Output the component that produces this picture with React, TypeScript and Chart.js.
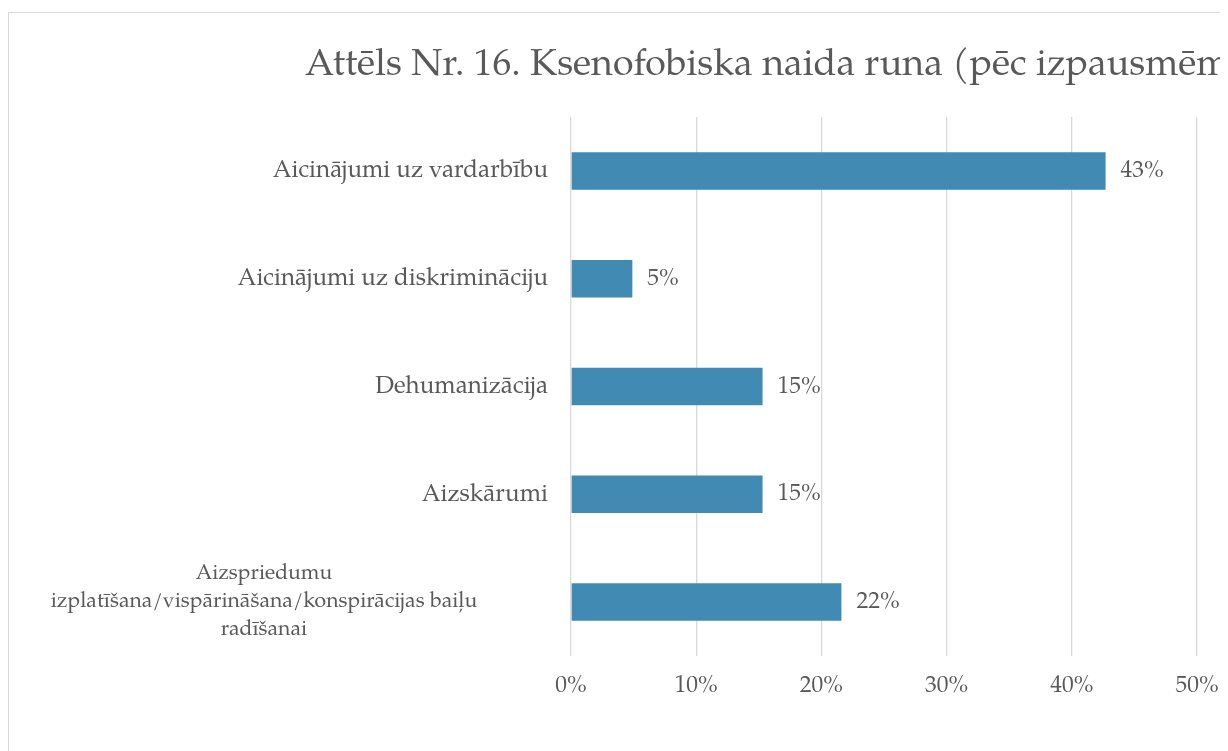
import React, { useEffect, useRef } from "react";
import { Chart, registerables } from "chart.js";

Chart.register(...registerables);

const TITLE = "Attēls Nr. 16. Ksenofobiska naida runa (pēc izpausmēm)";
const CATEGORIES: string[][] = [
  ["Aicinājumi uz vardarbību"],
  ["Aicinājumi uz diskrimināciju"],
  ["Dehumanizācija"],
  ["Aizskārumi"],
  ["Aizspriedumu", "izplatīšana/vispārināšana/konspirācijas baiļu", "radīšanai"],
];
const VALUES = [0.427, 0.049, 0.153, 0.153, 0.216];
const VALUE_LABELS = ["43%", "5%", "15%", "15%", "22%"];
const X_TICKS_MIN = 0;
const X_TICKS_MAX = 0.5;
const X_TICK_STEP = 0.1;

const FONT = "'Palatino Linotype', 'Book Antiqua', Palatino, P052, 'URW Palladio L', 'TeX Gyre Pagella', 'Liberation Serif', serif";
const TEXT_COLOR = "#595959";
const BAR_COLOR = "#418AB3";
const GRID_COLOR = "#d9d9d9";

const CANVAS_W = 1298;
const CANVAS_H = 758;

export default function App() {
  const ref = useRef<HTMLCanvasElement | null>(null);

  useEffect(() => {
    if (!ref.current) return;

    const overlay = {
      id: "overlay",
      afterDraw(chart: any) {
        const ctx = chart.ctx;
        const area = chart.chartArea;
        ctx.save();
        // title
        ctx.fillStyle = TEXT_COLOR;
        ctx.font = `37.5px ${FONT}`;
        ctx.textAlign = "left";
        ctx.textBaseline = "alphabetic";
        ctx.fillText(TITLE, 296, 62);

        // category labels
        const y = chart.scales.y;
        ctx.textBaseline = "middle";
        CATEGORIES.forEach((lines, i) => {
          const cy = y.getPixelForValue(i);
          const lh = 28;
          if (lines.length === 1) {
            ctx.font = `24.2px ${FONT}`;
            ctx.textAlign = "right";
            ctx.fillText(lines[0], area.left - 23, cy + 1);
          } else {
            ctx.font = `21.2px ${FONT}`;
            ctx.textAlign = "center";
            const start = cy - ((lines.length - 1) * lh) / 2;
            lines.forEach((ln, j) => ctx.fillText(ln, 255, start + j * lh));
          }
        });

        // value labels
        ctx.font = `23.5px ${FONT}`;
        const meta = chart.getDatasetMeta(0);
        ctx.textAlign = "left";
        meta.data.forEach((bar: any, i: number) => {
          ctx.fillText(VALUE_LABELS[i], bar.x + 15, bar.y + 1);
        });
        ctx.restore();
      },
    };

    const chart = new Chart(ref.current, {
      type: "bar",
      data: {
        labels: CATEGORIES.map((c) => c.join(" ")),
        datasets: [
          {
            data: VALUES,
            backgroundColor: BAR_COLOR,
            borderWidth: 0,
            barPercentage: 0.348,
            categoryPercentage: 1,
          },
        ],
      },
      options: {
        indexAxis: "y",
        responsive: false,
        animation: false,
        events: [],
        layout: { padding: { top: 104, right: CANVAS_W - 1188, bottom: 0, left: 0 } },
        plugins: {
          legend: { display: false },
          title: { display: false },
          tooltip: { enabled: false },
        },
        scales: {
          x: {
            min: X_TICKS_MIN,
            max: X_TICKS_MAX,
            grid: { color: GRID_COLOR, lineWidth: 1.3, drawTicks: false },
            border: { display: false },
            ticks: {
              stepSize: X_TICK_STEP,
              padding: 17,
              color: TEXT_COLOR,
              font: { family: FONT, size: 23.5 },
              callback: (v: any) => `${Math.round(Number(v) * 100)}%`,
            },
            afterFit: (s: any) => {
              s.height = CANVAS_H - 643;
            },
          },
          y: {
            grid: { display: false },
            border: { display: false },
            ticks: { display: false },
            afterFit: (s: any) => {
              s.width = 562;
            },
          },
        },
      },
      plugins: [overlay],
    });
    return () => chart.destroy();
  }, []);

  return (
    <div style={{ paddingTop: 4 }}>
      <div
        style={{
          width: CANVAS_W + 2,
          height: CANVAS_H + 2,
          border: `1px solid ${GRID_COLOR}`,
          boxSizing: "border-box",
          background: "#fff",
        }}
      >
        <canvas ref={ref} width={CANVAS_W} height={CANVAS_H} style={{ display: "block" }} />
      </div>
    </div>
  );
}
